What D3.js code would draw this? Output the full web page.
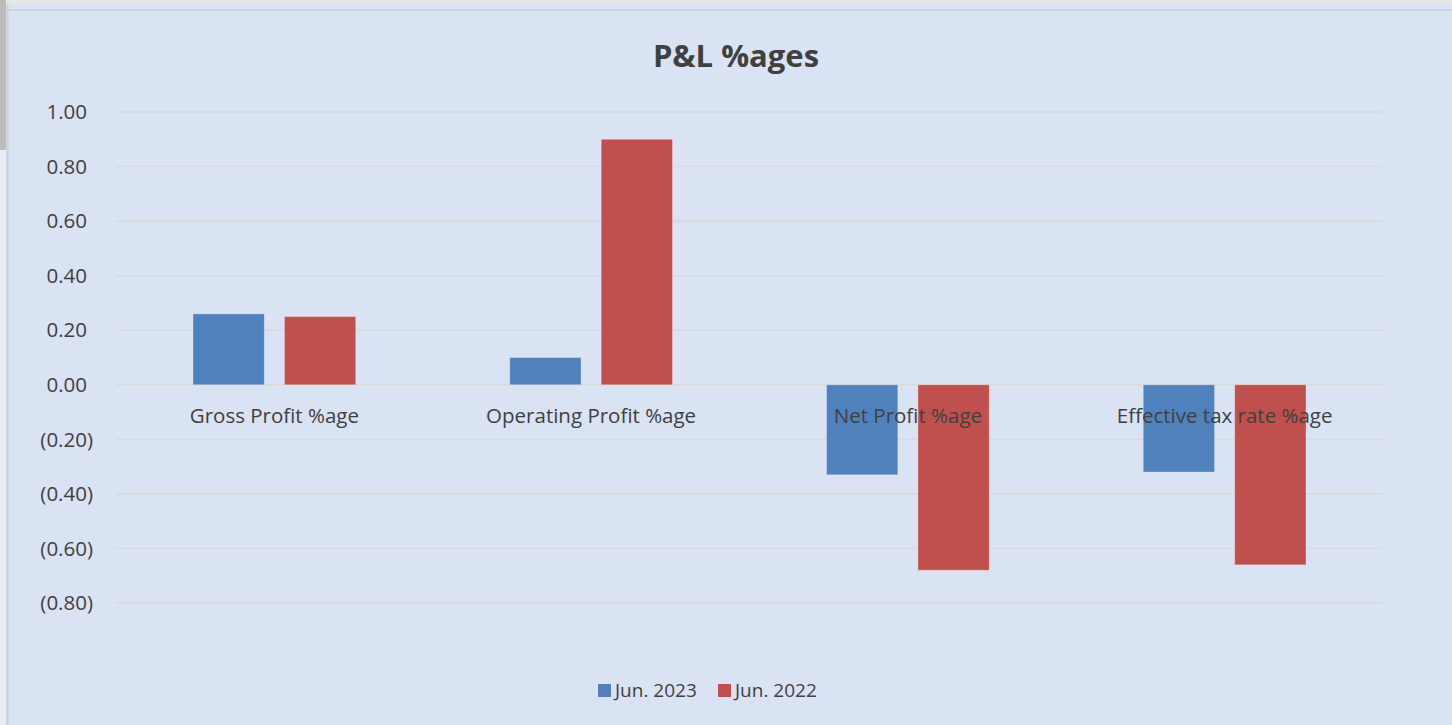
<!DOCTYPE html>
<html>
<head>
<meta charset="utf-8">
<script src="https://cdn.jsdelivr.net/npm/d3@7"></script>
<style>
  body { margin: 0; background: #dae3f3; font-family: "Open Sans", "Helvetica", sans-serif; }
  #chart { width: 1452px; height: 725px; }
  .grid line { stroke: #d9d9d9; stroke-width: 1.5; }
  .y-axis text, .cat-label { fill: #404040; font-size: 20.5px; }
  .legend text { fill: #404040; font-size: 19px; }
</style>
</head>
<body>
<div id="chart"></div>
<script>
const categories = ["Gross Profit %age", "Operating Profit %age", "Net Profit %age", "Effective tax rate %age"]
const seriesNames = ["Jun. 2023", "Jun. 2022"]
const jun2023 = [0.26, 0.10, -0.33, -0.32]
const jun2022 = [0.25, 0.90, -0.68, -0.66]
const yTicks = [1.0, 0.8, 0.6, 0.4, 0.2, 0, -0.2, -0.4, -0.6, -0.8]
const colors = ["#4f81bd", "#c0504d"]

const width = 1452, height = 725
const margin = { top: 112, right: 69, bottom: 122, left: 116 }

const svg = d3.select("#chart").append("svg")
  .attr("width", width)
  .attr("height", height)

// window frame bits round the chart
svg.append("rect").attr("x", 0).attr("y", 0).attr("width", width).attr("height", 4).attr("fill", "#e6e6e6")
svg.append("rect").attr("x", 0).attr("y", 0).attr("width", 6).attr("height", 150).attr("fill", "#bdbdbd")
svg.append("rect").attr("x", 0).attr("y", 150).attr("width", 6).attr("height", height - 150).attr("fill", "#e8edf7")
svg.append("line").attr("x1", 7.5).attr("x2", 7.5).attr("y1", 4).attr("y2", height)
  .attr("stroke", "#d0d0d0").attr("stroke-width", 2)
svg.append("line").attr("x1", 8).attr("x2", width).attr("y1", 10).attr("y2", 10)
  .attr("stroke", "#d3d3d3").attr("stroke-width", 2)

const x0 = d3.scaleBand()
  .domain(categories)
  .range([margin.left, width - margin.right])

const x1 = d3.scaleBand()
  .domain(seriesNames)
  .range([77, x0.bandwidth() - 77])
  .paddingInner(0.22)

const y = d3.scaleLinear()
  .domain([-0.8, 1.0])
  .range([603, 112])

const fmt = v => {
  const s = d3.format(".2f")(Math.abs(v))
  return v < -1e-9 ? `(${s})` : s
}

// gridlines
svg.append("g").attr("class", "grid")
  .selectAll("line").data(yTicks).enter().append("line")
  .attr("x1", margin.left).attr("x2", width - margin.right)
  .attr("y1", d => y(d)).attr("y2", d => y(d))

// y axis labels, positives leave room for the closing paren
svg.append("g").attr("class", "y-axis")
  .selectAll("text").data(yTicks).enter().append("text")
  .attr("x", d => d < -1e-9 ? 93 : 87).attr("y", d => y(d)).attr("dy", "0.35em")
  .attr("text-anchor", "end")
  .text(fmt)

// bars
const rows = categories.map((c, i) => ({ cat: c, vals: [jun2023[i], jun2022[i]] }))

const groups = svg.append("g").selectAll("g").data(rows).enter().append("g")
  .attr("transform", d => `translate(${x0(d.cat)},0)`)

groups.selectAll("rect")
  .data(d => d.vals.map((v, j) => ({ name: seriesNames[j], value: v, j })))
  .enter().append("rect")
  .attr("x", d => x1(d.name))
  .attr("width", x1.bandwidth())
  .attr("y", d => Math.min(y(0), y(d.value)))
  .attr("height", d => Math.abs(y(d.value) - y(0)))
  .attr("fill", d => colors[d.j])
  .attr("stroke", "rgba(255,255,255,0.3)")
  .attr("stroke-width", 1)

// category labels sit just under the zero line
svg.append("g").selectAll("text").data(categories).enter().append("text")
  .attr("class", "cat-label")
  .attr("x", d => x0(d) + x0.bandwidth() / 2)
  .attr("y", y(0) + 38)
  .attr("text-anchor", "middle")
  .text(d => d)

// title
svg.append("text")
  .attr("x", 736).attr("y", 67)
  .attr("text-anchor", "middle")
  .attr("font-size", 31).attr("font-weight", "bold")
  .attr("fill", "#404040")
  .text("P&L %ages")

// legend
const legend = svg.append("g").attr("class", "legend")
const legX = [598, 718]
seriesNames.forEach((n, i) => {
  legend.append("rect").attr("x", legX[i]).attr("y", 684).attr("width", 13).attr("height", 13).attr("fill", colors[i])
  legend.append("text").attr("x", legX[i] + 17).attr("y", 690.5).attr("dy", "0.35em").text(n)
})
</script>
</body>
</html>
